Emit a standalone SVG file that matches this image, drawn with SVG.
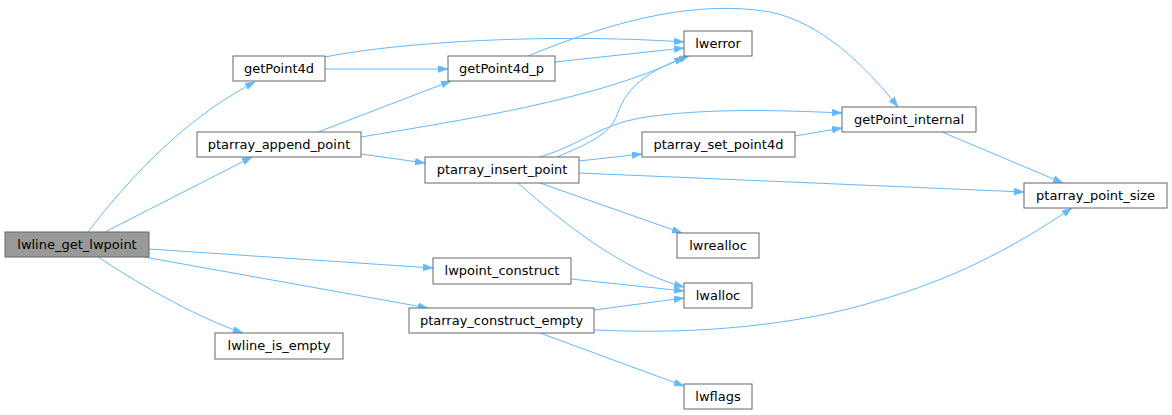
<svg xmlns="http://www.w3.org/2000/svg" width="1172" height="415" viewBox="0 0 1172 415">
<style>
.n rect{fill:#ffffff;stroke:#666666;stroke-width:1}
.n.root rect{fill:#999999}
.n text{font-family:"DejaVu Sans",sans-serif;font-size:13px;fill:#000000;text-anchor:middle}
.e path{fill:none;stroke:#63b8ff;stroke-width:1;marker-end:url(#ah)}
</style>
<defs>
<marker id="ah" markerUnits="userSpaceOnUse" markerWidth="11" markerHeight="8" refX="10" refY="3.5" orient="auto">
<path d="M0,0 L10,3.5 L0,7 z" fill="#63b8ff" stroke="#63b8ff" stroke-width="0.5"/>
</marker>
</defs>
<rect width="1172" height="415" fill="#ffffff"/>
<g id="connectors" class="e">
<path d="M88,232 C120,190 180,120 255,82"/>
<path d="M105,232 L252,157"/>
<path d="M149,249 L433,268"/>
<path d="M144,257 L428,308"/>
<path d="M98,257 C130,278 190,315 243,333"/>
<path d="M325,57 C400,42 550,33 684,42"/>
<path d="M325,69 L448,69"/>
<path d="M555,62 L684,48"/>
<path d="M528,56 C620,18 700,0 770,12 C820,22 865,65 898,107"/>
<path d="M318,132 L451,81"/>
<path d="M361,137 C450,122 600,100 684,57"/>
<path d="M361,154 L425,163"/>
<path d="M557,157 C585,145 610,135 617,115 C627,85 650,70 689,56"/>
<path d="M540,157 C580,145 600,125 640,118 C700,108 780,110 842,113"/>
<path d="M579,161 L642,154"/>
<path d="M579,173 L1024,192"/>
<path d="M540,183 L682,233"/>
<path d="M518,183 C560,220 620,270 684,287"/>
<path d="M795,136 L842,128"/>
<path d="M942,132 L1063,183"/>
<path d="M571,279 L684,291"/>
<path d="M594,310 L684,298"/>
<path d="M595,330 C700,335 800,325 880,300 C950,280 1010,250 1072,208"/>
<path d="M540,333 L684,386"/>
</g>
<g id="lwline_get_lwpoint" class="n root"><rect x="5" y="232" width="144" height="25"/><text x="77" y="249">lwline_get_lwpoint</text></g>
<g id="getPoint4d" class="n"><rect x="233" y="56" width="92" height="25"/><text x="279" y="73">getPoint4d</text></g>
<g id="ptarray_append_point" class="n"><rect x="197" y="132" width="164" height="25"/><text x="279" y="149">ptarray_append_point</text></g>
<g id="lwline_is_empty" class="n"><rect x="215" y="333" width="128" height="26"/><text x="279" y="350">lwline_is_empty</text></g>
<g id="getPoint4d_p" class="n"><rect x="448" y="56" width="107" height="25"/><text x="501.5" y="73">getPoint4d_p</text></g>
<g id="ptarray_insert_point" class="n"><rect x="425" y="157" width="154" height="26"/><text x="502" y="174">ptarray_insert_point</text></g>
<g id="lwpoint_construct" class="n"><rect x="433" y="258" width="138" height="26"/><text x="502" y="275">lwpoint_construct</text></g>
<g id="ptarray_construct_empty" class="n"><rect x="409" y="308" width="185" height="25"/><text x="501.5" y="325">ptarray_construct_empty</text></g>
<g id="lwerror" class="n"><rect x="684" y="31" width="68" height="25"/><text x="718" y="48">lwerror</text></g>
<g id="ptarray_set_point4d" class="n"><rect x="642" y="132" width="153" height="25"/><text x="718.5" y="149">ptarray_set_point4d</text></g>
<g id="lwrealloc" class="n"><rect x="677" y="233" width="82" height="25"/><text x="718" y="250">lwrealloc</text></g>
<g id="lwalloc" class="n"><rect x="684" y="283" width="68" height="25"/><text x="718" y="300">lwalloc</text></g>
<g id="lwflags" class="n"><rect x="684" y="384" width="68" height="25"/><text x="718" y="401">lwflags</text></g>
<g id="getPoint_internal" class="n"><rect x="842" y="107" width="134" height="25"/><text x="909" y="124">getPoint_internal</text></g>
<g id="ptarray_point_size" class="n"><rect x="1024" y="183" width="143" height="25"/><text x="1095.5" y="200">ptarray_point_size</text></g>
</svg>
